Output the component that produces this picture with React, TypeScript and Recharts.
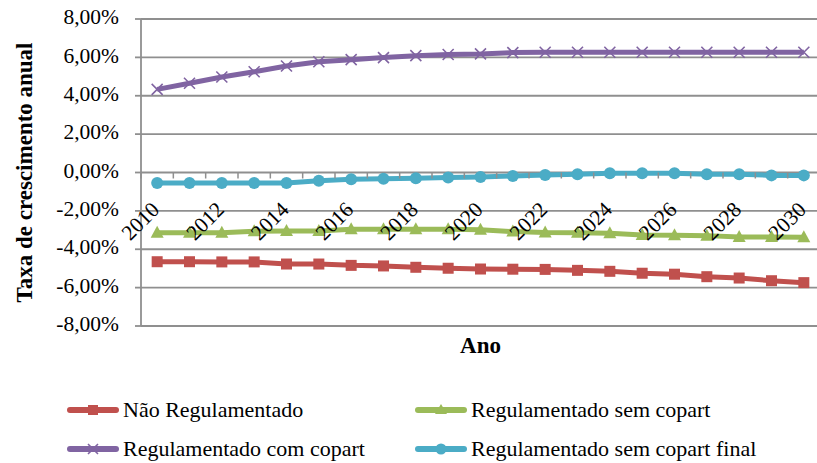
import React from "react";
import {
  LineChart,
  Line,
  CartesianGrid,
  XAxis,
  YAxis,
} from "recharts";

// ---- Data ------------------------------------------------------------------
const YEARS = [
  "2010", "2011", "2012", "2013", "2014", "2015", "2016", "2017", "2018", "2019", "2020",
  "2021", "2022", "2023", "2024", "2025", "2026", "2027", "2028", "2029", "2030",
];

const NAO_REG = [
  -4.65, -4.65, -4.66, -4.66, -4.77, -4.77, -4.84, -4.87, -4.94, -4.99, -5.03,
  -5.04, -5.05, -5.1, -5.15, -5.25, -5.3, -5.43, -5.5, -5.64, -5.74,
];
const SEM_COPART = [
  -3.14, -3.14, -3.14, -3.06, -3.05, -3.05, -2.96, -2.96, -2.96, -2.96, -2.98,
  -3.08, -3.13, -3.14, -3.17, -3.26, -3.27, -3.29, -3.36, -3.36, -3.38,
];
const COM_COPART = [
  4.33, 4.65, 4.98, 5.25, 5.55, 5.77, 5.88, 5.99, 6.09, 6.15, 6.18,
  6.25, 6.27, 6.27, 6.27, 6.27, 6.27, 6.27, 6.27, 6.27, 6.27,
];
const SEM_COPART_FINAL = [
  -0.55, -0.55, -0.55, -0.55, -0.55, -0.43, -0.35, -0.33, -0.3, -0.26, -0.23,
  -0.18, -0.13, -0.09, -0.04, -0.04, -0.04, -0.09, -0.09, -0.15, -0.15,
];

const Y_TICKS = [-8, -6, -4, -2, 0, 2, 4, 6, 8];

const rows = YEARS.map((year, i) => ({
  year,
  naoReg: NAO_REG[i],
  semCopart: SEM_COPART[i],
  comCopart: COM_COPART[i],
  semCopartFinal: SEM_COPART_FINAL[i],
}));

// ---- Layout ----------------------------------------------------------------
const W = 817;
const H = 463;
const TOP = 19;
const X_AXIS_H = 30;
const BOTTOM = 107;
const LEFT_W = 141;
const RIGHT = -3;
const PLOT_H = H - TOP - BOTTOM - X_AXIS_H;
const PLOT_W = W - LEFT_W - RIGHT;
const Y_MIN = Y_TICKS[0];
const Y_MAX = Y_TICKS[Y_TICKS.length - 1];
const ZERO_Y = TOP + (PLOT_H * (Y_MAX - 0)) / (Y_MAX - Y_MIN);
const BAND = PLOT_W / YEARS.length;

const FONT = "'Liberation Serif', 'Times New Roman', serif";
const GRID = "#8f8f8f";
const RED = "#C0504D";
const GREEN = "#9BBB59";
const PURPLE = "#8064A2";
const CYAN = "#4BACC6";

const pct = (v: number) => v.toFixed(2).replace(".", ",") + "%";

// ---- Markers ---------------------------------------------------------------
const square = (p: any) => (
  <rect key={`sq-${p.index}`} x={p.cx - 5.5} y={p.cy - 5.5} width={11} height={11} fill={RED} />
);
const triangle = (p: any) => (
  <path
    key={`tr-${p.index}`}
    d={`M${p.cx},${p.cy - 7} L${p.cx + 6.5},${p.cy + 5} L${p.cx - 6.5},${p.cy + 5} Z`}
    fill={GREEN}
  />
);
const cross = (p: any) => (
  <path
    key={`x-${p.index}`}
    d={`M${p.cx - 5.5},${p.cy - 5.5} L${p.cx + 5.5},${p.cy + 5.5} M${p.cx + 5.5},${p.cy - 5.5} L${p.cx - 5.5},${p.cy + 5.5}`}
    stroke={PURPLE}
    strokeWidth={1.6}
  />
);
const circle = (p: any) => (
  <circle key={`c-${p.index}`} cx={p.cx} cy={p.cy} r={6} fill={CYAN} />
);

// x ticks sit on the zero line, labels every other year
const YearTick = (props: any) => {
  const { x, payload, index } = props;
  const last = index === YEARS.length - 1;
  const lx = x + 3.5;
  const ly = ZERO_Y + 38.5;
  return (
    <g>
      <line x1={x - BAND / 2} x2={x - BAND / 2} y1={ZERO_Y} y2={ZERO_Y + 6} stroke={GRID} strokeWidth={1.5} />
      {last && (
        <line x1={x + BAND / 2} x2={x + BAND / 2} y1={ZERO_Y} y2={ZERO_Y + 6} stroke={GRID} strokeWidth={1.5} />
      )}
      {index % 2 === 0 && (
        <text
          x={lx}
          y={ly}
          textAnchor="end"
          transform={`rotate(-45, ${lx}, ${ly})`}
          fontFamily={FONT}
          fontSize={21.5}
          fill="#000"
        >
          {payload.value}
        </text>
      )}
    </g>
  );
};

const PctTick = (props: any) => {
  const { x, y, payload } = props;
  return (
    <text x={x} y={y - 2.5} dy="0.355em" textAnchor="end" fontFamily={FONT} fontSize={21.5} fill="#000">
      {pct(payload.value)}
    </text>
  );
};

const LEGEND = [
  { name: "Não Regulamentado", color: RED, marker: "square", left: 67, top: 410 },
  { name: "Regulamentado sem copart", color: GREEN, marker: "triangle", left: 415, top: 410 },
  { name: "Regulamentado com copart", color: PURPLE, marker: "cross", left: 67, top: 449 },
  { name: "Regulamentado sem copart final", color: CYAN, marker: "circle", left: 415, top: 449 },
];

const LegendSwatch = ({ color, marker }: { color: string; marker: string }) => (
  <svg width={52} height={14} style={{ display: "block" }}>
    <line x1={3} x2={49} y1={7} y2={7} stroke={color} strokeWidth={6} strokeLinecap="round" />
    {marker === "square" && <rect x={21} y={2} width={10} height={10} fill={color} />}
    {marker === "triangle" && <path d="M26,1 L32,11 L20,11 Z" fill={color} />}
    {marker === "cross" && (
      <path d="M21,2 L31,12 M31,2 L21,12" stroke={color} strokeWidth={1.6} />
    )}
    {marker === "circle" && <circle cx={26} cy={7} r={5.5} fill={color} />}
  </svg>
);

// ---- Component -------------------------------------------------------------
export default function App() {
  return (
    <div style={{ position: "absolute", left: 0, top: 0, width: W, height: H, background: "#fff", fontFamily: FONT }}>
      <LineChart
        width={W}
        height={H}
        data={rows}
        margin={{ top: TOP, right: RIGHT, bottom: BOTTOM, left: 0 }}
      >
        <CartesianGrid vertical={false} stroke={GRID} strokeWidth={1.8} />
        <XAxis
          dataKey="year"
          interval={0}
          height={X_AXIS_H}
          padding={{ left: BAND / 2, right: BAND / 2 }}
          axisLine={false}
          tickLine={false}
          tick={<YearTick />}
          label={{
            content: ({ viewBox }: any) => (
              <text
                x={viewBox.x + viewBox.width / 2}
                y={viewBox.y + 27}
                textAnchor="middle"
                fontFamily={FONT}
                fontWeight="bold"
                fontSize={23}
                fill="#000"
              >
                Ano
              </text>
            ),
          }}
        />
        <YAxis
          width={LEFT_W}
          domain={[Y_MIN, Y_MAX]}
          ticks={Y_TICKS}
          interval={0}
          axisLine={{ stroke: GRID, strokeWidth: 1.8 }}
          tickLine={{ stroke: GRID, strokeWidth: 1.8 }}
          tickSize={6}
          tickMargin={16}
          tick={<PctTick />}
          label={{
            content: ({ viewBox }: any) => {
              const cx = viewBox.x + 24;
              const cy = viewBox.y + viewBox.height / 2;
              return (
                <text
                  x={cx}
                  y={cy}
                  textAnchor="middle"
                  dominantBaseline="central"
                  transform={`rotate(-90, ${cx}, ${cy})`}
                  fontFamily={FONT}
                  fontWeight="bold"
                  fontSize={23}
                  fill="#000"
                >
                  Taxa de crescimento anual
                </text>
              );
            },
          }}
        />
        <Line dataKey="naoReg" stroke={RED} strokeWidth={5} dot={square} activeDot={false} isAnimationActive={false} />
        <Line dataKey="semCopart" stroke={GREEN} strokeWidth={5} dot={triangle} activeDot={false} isAnimationActive={false} />
        <Line dataKey="comCopart" stroke={PURPLE} strokeWidth={5} dot={cross} activeDot={false} isAnimationActive={false} />
        <Line dataKey="semCopartFinal" stroke={CYAN} strokeWidth={5} dot={circle} activeDot={false} isAnimationActive={false} />
      </LineChart>
      {LEGEND.map((item) => (
        <div
          key={item.name}
          style={{
            position: "absolute",
            left: item.left,
            top: item.top - 13,
            height: 26,
            display: "flex",
            alignItems: "center",
            gap: 4,
            fontSize: 22,
            lineHeight: "26px",
            color: "#000",
            whiteSpace: "nowrap",
          }}
        >
          <LegendSwatch color={item.color} marker={item.marker} />
          <span>{item.name}</span>
        </div>
      ))}
    </div>
  );
}
